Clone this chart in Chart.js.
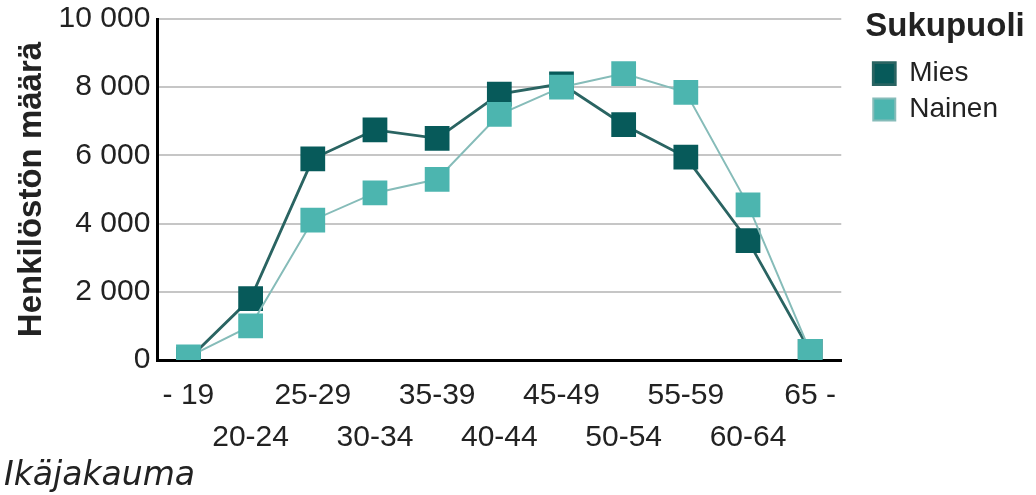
<!DOCTYPE html>
<html>
<head>
<meta charset="utf-8">
<script src="https://cdn.jsdelivr.net/npm/chart.js@4/dist/chart.umd.min.js"></script>
<style>
  html, body { margin: 0; padding: 0; background: #ffffff; }
  #wrap { width: 1036px; height: 495px; }
</style>
</head>
<body>
<div id="wrap"><canvas id="ageChart" width="1036" height="495"></canvas></div>
<script>
"use strict";

const ageGroups = ["- 19", "20-24", "25-29", "30-34", "35-39", "40-44", "45-49", "50-54", "55-59", "60-64", "65 -"];
const miesValues = [20, 1800, 5900, 6750, 6500, 7800, 8100, 6900, 5950, 3500, 250];
const nainenValues = [90, 1000, 4100, 4900, 5300, 7200, 8000, 8400, 7850, 4550, 250];
const yTicks = [0, 2000, 4000, 6000, 8000, 10000];

const textColor = "#222222";
const fontFamily = "'Liberation Sans', Arial, sans-serif";

function formatThousands(v) {
  return v.toString().replace(/\B(?=(\d{3})+(?!\d))/g, " ");
}

// legend box is only as wide as its items; make room for the wider title
const widenLegend = {
  id: "widenLegend",
  beforeLayout(chart) {
    const legend = chart.legend;
    if (legend && !legend._widened) {
      const origFit = legend.fit;
      legend.fit = function () {
        origFit.call(this);
        this.width += 24;
      };
      legend._widened = true;
    }
  },
};

const ctx = document.getElementById("ageChart").getContext("2d");

new Chart(ctx, {
  type: "line",
  data: {
    labels: ageGroups,
    datasets: [
      {
        label: "Mies",
        data: miesValues,
        order: 1,
        borderColor: "#2a6462",
        backgroundColor: "#075a5a",
        pointBackgroundColor: "#075a5a",
        pointBorderColor: "#075a5a",
        borderWidth: 2.8,
        pointStyle: "rect",
        pointRadius: 17.5,
        pointHoverRadius: 17.5,
        pointBorderWidth: 0,
        tension: 0,
      },
      {
        label: "Nainen",
        data: nainenValues,
        order: 0,
        borderColor: "#86bcb9",
        backgroundColor: "#4cb5af",
        pointBackgroundColor: "#4cb5af",
        pointBorderColor: "#4cb5af",
        borderWidth: 2,
        pointStyle: "rect",
        pointRadius: 17.5,
        pointHoverRadius: 17.5,
        pointBorderWidth: 0,
        tension: 0,
      },
    ],
  },
  plugins: [widenLegend],
  options: {
    responsive: false,
    animation: false,
    layout: {
      autoPadding: false,
      padding: { left: 4, top: 0, right: 4, bottom: 2 },
    },
    plugins: {
      legend: {
        position: "right",
        align: "start",
        title: {
          display: true,
          text: "Sukupuoli",
          position: "start",
          color: textColor,
          font: { family: fontFamily, size: 33, weight: "bold" },
          padding: { top: 10, bottom: 2 },
        },
        labels: {
          color: textColor,
          font: { family: fontFamily, size: 28 },
          boxWidth: 22,
          boxHeight: 22,
          padding: 8,
          sort: (a, b) => a.datasetIndex - b.datasetIndex,
        },
      },
      title: {
        display: true,
        position: "bottom",
        align: "start",
        text: "Ikäjakauma",
        color: textColor,
        font: { family: "'DejaVu Sans', sans-serif", size: 33, style: "italic", weight: "normal", lineHeight: 1 },
        padding: { top: 0, bottom: 0 },
      },
      tooltip: { enabled: false },
    },
    scales: {
      x: {
        offset: true,
        grid: { display: false, drawTicks: false },
        border: { display: true, color: "#000000", width: 3 },
        ticks: {
          autoSkip: false,
          maxRotation: 0,
          minRotation: 0,
          padding: 15,
          color: textColor,
          font: { family: fontFamily, size: 30, lineHeight: 1.4 },
          callback: function (value, index) {
            const label = ageGroups[index];
            return index % 2 === 0 ? [label, ""] : ["", label];
          },
        },
        afterFit: function (axis) {
          axis.height = 100;
        },
      },
      y: {
        min: 0,
        max: 10000,
        afterBuildTicks: function (axis) {
          axis.ticks = yTicks.map((v) => ({ value: v }));
        },
        grid: { color: "#c6c6c6", lineWidth: 2, drawTicks: false },
        border: { display: true, color: "#000000", width: 3 },
        ticks: {
          padding: 7,
          color: textColor,
          font: { family: fontFamily, size: 30, lineHeight: 0.8 },
          callback: function (value) {
            return formatThousands(value);
          },
        },
        title: {
          display: true,
          text: "Henkilöstön määrä",
          color: textColor,
          font: { family: fontFamily, size: 33, weight: "bold" },
          padding: { top: 8, bottom: 0 },
        },
      },
      gap: {
        type: "linear",
        position: "right",
        display: true,
        grid: { display: false, drawTicks: false },
        border: { display: false },
        ticks: { display: false },
        afterFit: function (axis) {
          axis.width = 24;
        },
      },
    },
  },
});
</script>
</body>
</html>
